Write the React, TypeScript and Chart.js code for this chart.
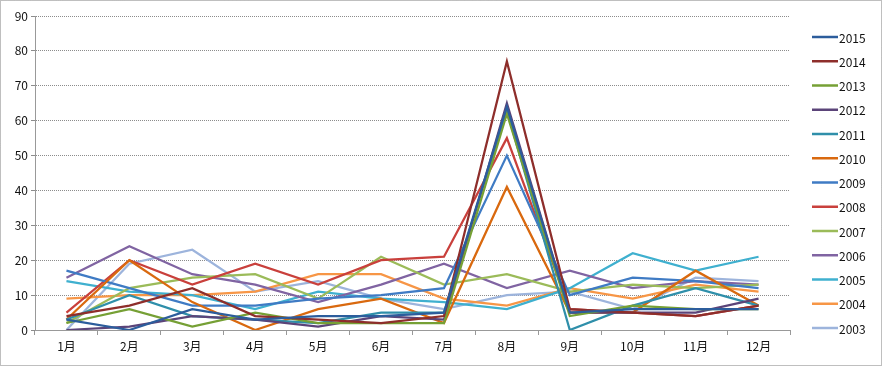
import React, { useEffect, useRef } from 'react';
import { Chart, registerables } from 'chart.js';
Chart.register(...registerables);

const months = ['1月', '2月', '3月', '4月', '5月', '6月', '7月', '8月', '9月', '10月', '11月', '12月'];
const yTicks = [0, 10, 20, 30, 40, 50, 60, 70, 80, 90];

const years = ['2015', '2014', '2013', '2012', '2011', '2010', '2009', '2008', '2007', '2006', '2005', '2004', '2003'];

const v2015 = [3, 0, 6, 3, 4, 4, 5, 64, 5, 6, 6, 6];
const v2014 = [4, 7, 12, 4, 3, 2, 4, 77, 6, 5, 4, 7];
const v2013 = [2, 6, 1, 5, 2, 2, 2, 62, 4, 7, 6, 6];
const v2012 = [0, 1, 4, 3, 1, 4, 3, 65, 5, 5, 5, 9];
const v2011 = [3, 10, 4, 3, 2, 5, 5, 63, 0, 7, 12, 7];
const v2010 = [3, 20, 8, 0, 6, 9, 2, 41, 5, 5, 17, 7];
const v2009 = [17, 12, 7, 7, 9, 10, 12, 50, 10, 15, 14, 12];
const v2008 = [5, 20, 13, 19, 13, 20, 21, 55, 6, 5, 4, 7];
const v2007 = [2, 12, 15, 16, 9, 21, 13, 16, 11, 13, 12, 13];
const v2006 = [15, 24, 16, 13, 8, 13, 19, 12, 17, 12, 14, 13];
const v2005 = [14, 11, 10, 6, 11, 9, 8, 6, 12, 22, 17, 21];
const v2004 = [9, 10, 10, 11, 16, 16, 9, 7, 12, 9, 13, 11];
const v2003 = [0, 19, 23, 11, 14, 9, 6, 10, 11, 6, 15, 14];

const seriesValues = [v2015, v2014, v2013, v2012, v2011, v2010, v2009, v2008, v2007, v2006, v2005, v2004, v2003];
const seriesColors = [
  '#2C5D9C', '#8E2E2B', '#76A035', '#5B4479', '#2F8FAA', '#D9690F',
  '#3F7BC4', '#C9403C', '#9BBB59', '#8064A2', '#3FB0CF', '#F79646', '#9DB4DC',
];

const FONT = '"Noto Sans CJK SC", "Noto Sans", sans-serif';

const framePlugin = {
  id: 'frameAndLegend',
  afterDraw(chart: any) {
    const ctx = chart.ctx;
    ctx.save();
    ctx.strokeStyle = '#7f7f7f';
    ctx.lineWidth = 1;
    ctx.setLineDash([1, 1]);
    ctx.strokeRect(0.5, 0.5, chart.width - 1, chart.height - 1);
    ctx.setLineDash([]);
    const ds = chart.data.datasets;
    ctx.font = '12px ' + FONT;
    ctx.textBaseline = 'middle';
    ctx.textAlign = 'left';
    ds.forEach((d: any, i: number) => {
      const y = 37 + i * 24.25;
      ctx.strokeStyle = d.borderColor;
      ctx.lineWidth = 2.5;
      ctx.beginPath();
      ctx.moveTo(812, y);
      ctx.lineTo(838, y);
      ctx.stroke();
      ctx.fillStyle = '#111';
      ctx.fillText(d.label, 839, y + 1);
    });
    ctx.restore();
  },
};

export default function App() {
  const ref = useRef<HTMLCanvasElement>(null);
  useEffect(() => {
    document.body.style.margin = '0';
    const chart = new Chart(ref.current!, {
      type: 'line',
      data: {
        labels: months,
        datasets: years.map((y, i) => ({
          label: y,
          data: seriesValues[i],
          borderColor: seriesColors[i],
          backgroundColor: seriesColors[i],
          borderWidth: 2.25,
          pointRadius: 0,
          tension: 0,
          fill: false,
        })),
      },
      options: {
        animation: false,
        responsive: true,
        maintainAspectRatio: false,
        layout: { padding: { top: 16, left: 0, right: 92, bottom: 0 } },
        plugins: { legend: { display: false }, tooltip: { enabled: false } },
        scales: {
          x: {
            offset: true,
            grid: { drawOnChartArea: false, drawTicks: true, tickLength: 5, offset: true, color: '#999' },
            border: { color: '#999', width: 1 },
            ticks: { font: { family: FONT, size: 12 }, color: '#111', padding: 4, maxRotation: 0 },
            afterFit: (s: any) => { s.height = 36; },
          },
          y: {
            min: 0,
            max: 90,
            afterBuildTicks: (s: any) => { s.ticks = yTicks.map((v) => ({ value: v })); },
            grid: { color: '#8c8c8c', tickLength: 4, drawTicks: true },
            border: { color: '#999', width: 1, dash: [1, 1] },
            ticks: { font: { family: FONT, size: 12 }, color: '#111', padding: 3 },
            afterFit: (s: any) => { s.width = 35; },
          },
        },
      },
      plugins: [framePlugin],
    });
    return () => chart.destroy();
  }, []);
  return (
    <div style={{ position: 'relative', width: 882, height: 366 }}>
      <canvas ref={ref} />
    </div>
  );
}
